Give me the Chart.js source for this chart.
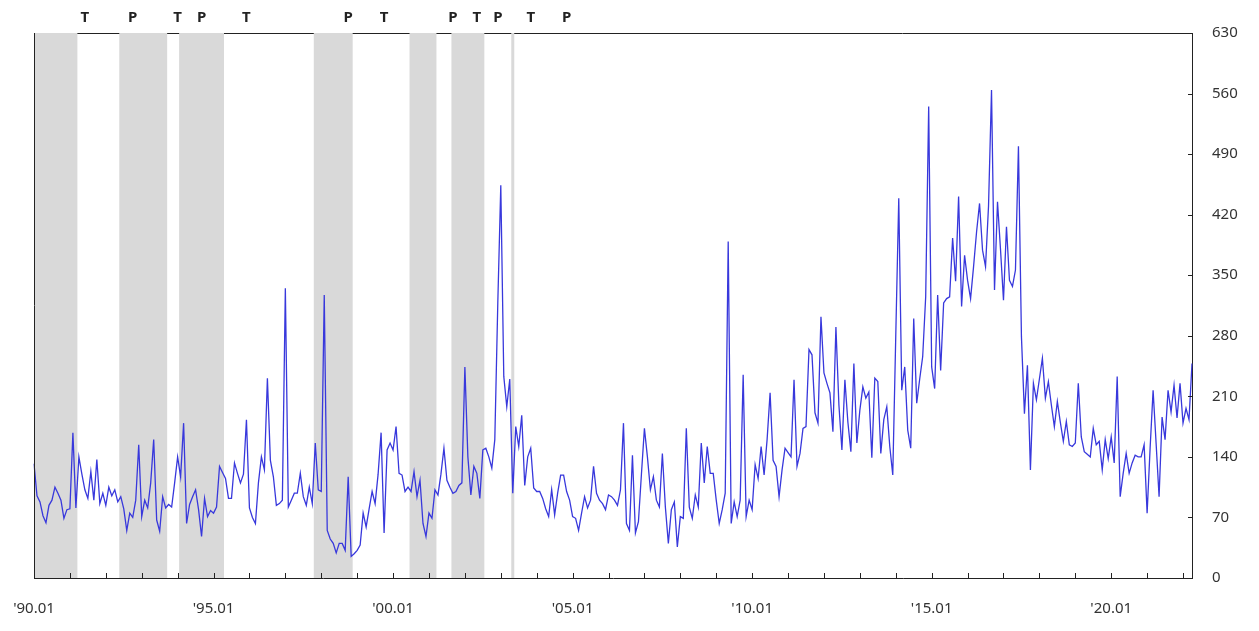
<!DOCTYPE html>
<html>
<head>
<meta charset="utf-8">
<script src="https://cdn.jsdelivr.net/npm/chart.js@4.4.1/dist/chart.umd.min.js"></script>
<style>
  html, body { margin: 0; padding: 0; background: #fff; }
  #wrap { width: 1259px; height: 631px; }
</style>
</head>
<body>
<div id="wrap"><canvas id="chart"></canvas></div>
<script>
// monthly values, 1990.01 - 2022.04 (one row per year)
const values = [
  132, 95, 88, 72, 64, 84, 90, 105, 98, 90, 69, 79,
  80, 168, 81, 140, 120, 102, 92, 123, 90, 137, 86, 98,
  84, 105, 95, 102, 88, 94, 80, 55, 75, 70, 90, 154,
  71, 90, 81, 110, 160, 67, 54, 94, 81, 85, 82, 110,
  140, 117, 179, 63, 85, 94, 102, 79, 48, 92, 71, 78,
  75, 82, 129, 122, 115, 92, 92, 133, 121, 110, 120, 183,
  81, 70, 63, 110, 140, 125, 231, 136, 117, 84, 86, 90,
  335, 82, 90, 98, 98, 121, 94, 84, 105, 86, 156, 102,
  100, 327, 55, 45, 40, 29, 40, 40, 32, 117, 25, 28,
  32, 38, 75, 59, 80, 100, 86, 120, 168, 52, 148, 156,
  148, 175, 121, 119, 100, 105, 100, 123, 94, 113, 63, 48,
  75, 69, 102, 96, 120, 150, 113, 105, 98, 100, 107, 110,
  244, 140, 96, 129, 121, 92, 148, 150, 140, 127, 160, 318,
  454, 233, 198, 230, 98, 175, 152, 188, 107, 140, 150, 104,
  100, 100, 92, 80, 71, 102, 73, 98, 119, 119, 100, 90,
  71, 69, 55, 75, 94, 81, 90, 129, 98, 90, 86, 79,
  96, 94, 90, 84, 102, 179, 63, 55, 142, 52, 65, 120,
  173, 140, 102, 117, 90, 82, 144, 82, 40, 79, 88, 36,
  71, 69, 173, 82, 69, 96, 82, 156, 110, 152, 121, 121,
  90, 63, 79, 98, 389, 63, 88, 71, 90, 235, 71, 90,
  79, 131, 115, 152, 119, 160, 214, 136, 129, 94, 125, 150,
  145, 140, 229, 129, 144, 173, 175, 264, 258, 191, 179, 302,
  237, 225, 214, 169, 290, 200, 148, 229, 180, 146, 248, 156,
  194, 221, 208, 215, 139, 231, 227, 144, 183, 198, 152, 119,
  280, 439, 217, 244, 171, 150, 300, 202, 230, 256, 325, 545,
  244, 219, 327, 240, 318, 323, 325, 393, 343, 441, 314, 373,
  344, 323, 360, 400, 433, 379, 360, 430, 564, 333, 435, 380,
  321, 406, 344, 337, 356, 499, 279, 190, 246, 125, 225, 206,
  230, 254, 208, 227, 200, 175, 204, 180, 158, 181, 154, 152,
  156, 225, 163, 146, 143, 140, 173, 154, 158, 125, 160, 138,
  163, 133, 233, 94, 121, 144, 121, 133, 142, 140, 140, 154,
  75, 150, 217, 156, 94, 186, 160, 217, 192, 223, 185, 225,
  179, 196, 183, 248
];

const startYear = 1990;
const months = [];
for (let i = 0; i < values.length; i++) {
  const yr = startYear + Math.floor(i / 12);
  months.push(yr + '.' + String(i % 12 + 1).padStart(2, '0'));
}

const xTickMonths = ['1990.01', '1995.01', '2000.01', '2005.01', '2010.01', '2015.01', '2020.01'];

// shaded periods (first month, last month)
const recessions = [
  ['1990.01', '1991.03'],
  ['1992.06', '1993.09'],
  ['1994.02', '1995.04'],
  ['1997.11', '1998.11'],
  ['2000.07', '2001.03'],
  ['2001.09', '2002.07'],
  ['2003.05', '2003.05']
];

// turning point marks above the plot
const turnLabels = ['T', 'P', 'T', 'P', 'T', 'P', 'T', 'P', 'T', 'P', 'T', 'P'];
const turnMonths = ['1991.06', '1992.10', '1994.01', '1994.09', '1995.12', '1998.10',
                    '1999.10', '2001.09', '2002.05', '2002.12', '2003.11', '2004.11'];

const fontName = '"Noto Sans", "DejaVu Sans", sans-serif';

const decorPlugin = {
  id: 'decor',
  beforeDraw(chart) {
    const { ctx, chartArea: a, scales: { x } } = chart;
    ctx.save();
    // top frame line, hidden behind the shading
    ctx.strokeStyle = '#222';
    ctx.lineWidth = 1;
    ctx.beginPath();
    ctx.moveTo(a.left, a.top + 0.5);
    ctx.lineTo(a.right, a.top + 0.5);
    ctx.stroke();

    const half = (x.getPixelForValue(1) - x.getPixelForValue(0)) / 2;
    ctx.fillStyle = '#d9d9d9';
    recessions.forEach(([s, e]) => {
      const x0 = Math.max(a.left + 1, x.getPixelForValue(months.indexOf(s)) - half);
      const x1 = x.getPixelForValue(months.indexOf(e)) + half;
      ctx.fillRect(x0, a.top, x1 - x0, a.bottom - a.top);
    });
    ctx.restore();
  },
  afterDraw(chart) {
    const { ctx, chartArea: a, scales: { x, y } } = chart;
    ctx.save();
    ctx.strokeStyle = '#222';
    ctx.lineWidth = 1;
    // left frame line
    ctx.beginPath();
    ctx.moveTo(a.left + 0.5, a.top);
    ctx.lineTo(a.left + 0.5, a.bottom);
    ctx.stroke();
    // yearly ticks, pointing into the plot
    ctx.beginPath();
    months.forEach((m, i) => {
      if (m.endsWith('.01') && i > 0) {
        const px = Math.round(x.getPixelForValue(i)) + 0.5;
        ctx.moveTo(px, a.bottom);
        ctx.lineTo(px, a.bottom - 5);
      }
    });
    // value ticks on the right axis
    for (let v = 70; v < 630; v += 70) {
      const py = Math.round(y.getPixelForValue(v)) + 0.5;
      ctx.moveTo(a.right, py);
      ctx.lineTo(a.right - 4, py);
    }
    ctx.stroke();

    ctx.fillStyle = '#222';
    ctx.font = 'bold 15px ' + fontName;
    ctx.textAlign = 'center';
    ctx.textBaseline = 'middle';
    turnLabels.forEach((t, i) => {
      ctx.fillText(t, x.getPixelForValue(months.indexOf(turnMonths[i])), 18);
    });
    ctx.restore();
  }
};

new Chart(document.getElementById('chart'), {
  type: 'line',
  data: {
    labels: months,
    datasets: [{
      data: values,
      borderColor: '#3838dc',
      borderWidth: 1.3,
      pointRadius: 0,
      tension: 0,
      fill: false
    }]
  },
  options: {
    responsive: true,
    maintainAspectRatio: false,
    devicePixelRatio: 1,
    animation: false,
    layout: { padding: { left: 34, top: 33, right: 0, bottom: 0 } },
    plugins: {
      legend: { display: false },
      tooltip: { enabled: false }
    },
    scales: {
      x: {
        offset: false,
        grid: { display: false, drawTicks: false },
        border: { display: true, color: '#222', width: 1 },
        ticks: {
          autoSkip: false,
          maxRotation: 0,
          minRotation: 0,
          padding: 22,
          color: '#333',
          font: { family: fontName, size: 15 },
          callback: (v, i) => xTickMonths.includes(months[i]) ? "'" + months[i].slice(2) : ''
        },
        afterFit: s => {
          s.height = 53;
          s.paddingLeft = 0;
          s.paddingRight = 0;
        }
      },
      y: {
        position: 'right',
        min: 0,
        max: 630,
        grid: { display: false, drawTicks: false },
        border: { display: true, color: '#222', width: 1 },
        ticks: {
          stepSize: 70,
          padding: 20,
          color: '#333',
          font: { family: fontName, size: 15 }
        },
        afterFit: s => { s.width = 67; }
      }
    }
  },
  plugins: [decorPlugin]
});
</script>
</body>
</html>
